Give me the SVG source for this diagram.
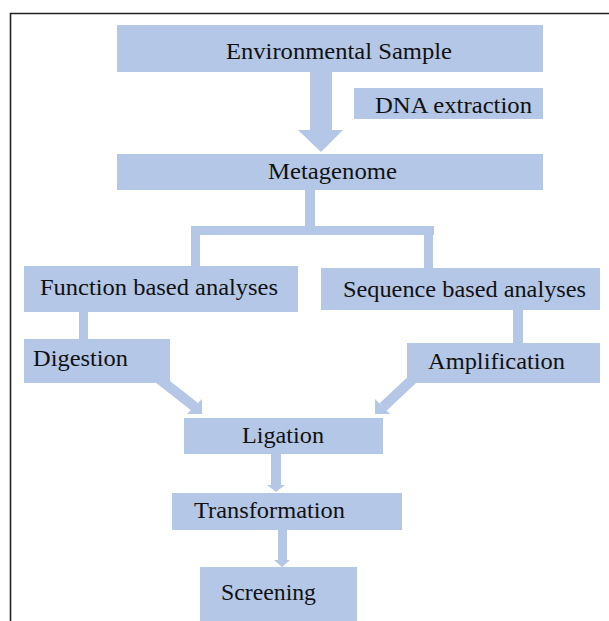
<svg xmlns="http://www.w3.org/2000/svg" width="609" height="621" viewBox="0 0 609 621">
<style>
.box{fill:#B4C7E7;}
.conn{fill:#B4C7E7;}
.shaft{stroke:#B4C7E7;stroke-width:10;fill:none;}
text{font-family:"Liberation Serif","Times New Roman",serif;font-size:24px;fill:#111;}
</style>
<rect width="609" height="621" fill="#fff"/>
<path d="M10.5,621 V13.5 H609" fill="none" stroke="#222" stroke-width="1.6"/>
<g id="connectors">
<polygon class="conn" points="310,72 332,72 332,130 343,130 321,152 298,130 310,130"/>
<rect class="conn" x="305" y="190" width="10" height="45"/>
<rect class="conn" x="191" y="226" width="243" height="9"/>
<rect class="conn" x="191" y="235" width="9" height="31"/>
<rect class="conn" x="424" y="235" width="9" height="33"/>
<rect class="conn" x="79" y="312" width="9" height="28"/>
<rect class="conn" x="513" y="310" width="10" height="33"/>
<line class="shaft" x1="158" y1="378" x2="195" y2="407"/>
<polygon class="conn" points="202,399 202,414 187,414"/>
<line class="shaft" x1="414" y1="378" x2="383" y2="407"/>
<polygon class="conn" points="375,399 375,414 390,414"/>
<polygon class="conn" points="271,454 281,454 281,485 285,485 276,492 267,485 271,485"/>
<polygon class="conn" points="278,530 287,530 287,560 290,560 282,567 274,560 278,560"/>
</g>
<g id="env"><rect class="box" x="117" y="25" width="426" height="47"/><text x="226" y="59" textLength="226" lengthAdjust="spacingAndGlyphs">Environmental Sample</text></g>
<g id="dna"><rect class="box" x="354" y="88" width="189" height="31"/><text x="375" y="113" textLength="157" lengthAdjust="spacingAndGlyphs">DNA extraction</text></g>
<g id="meta"><rect class="box" x="117" y="154" width="426" height="36"/><text x="268" y="179" textLength="129" lengthAdjust="spacingAndGlyphs">Metagenome</text></g>
<g id="func"><rect class="box" x="24" y="266" width="274" height="46"/><text x="40" y="295" textLength="238" lengthAdjust="spacingAndGlyphs">Function based analyses</text></g>
<g id="seq"><rect class="box" x="321" y="268" width="279" height="42"/><text x="343" y="297" textLength="243" lengthAdjust="spacingAndGlyphs">Sequence based analyses</text></g>
<g id="dig"><rect class="box" x="24" y="339" width="146" height="44"/><text x="33" y="366" textLength="95" lengthAdjust="spacingAndGlyphs">Digestion</text></g>
<g id="amp"><rect class="box" x="407" y="343" width="193" height="40"/><text x="428" y="369" textLength="137" lengthAdjust="spacingAndGlyphs">Amplification</text></g>
<g id="lig"><rect class="box" x="184" y="418" width="199" height="36"/><text x="242" y="443" textLength="82" lengthAdjust="spacingAndGlyphs">Ligation</text></g>
<g id="trans"><rect class="box" x="172" y="493" width="230" height="37"/><text x="194" y="518" textLength="151" lengthAdjust="spacingAndGlyphs">Transformation</text></g>
<g id="screen"><rect class="box" x="200" y="567" width="157" height="60"/><text x="221" y="600" textLength="95" lengthAdjust="spacingAndGlyphs">Screening</text></g>
</svg>
